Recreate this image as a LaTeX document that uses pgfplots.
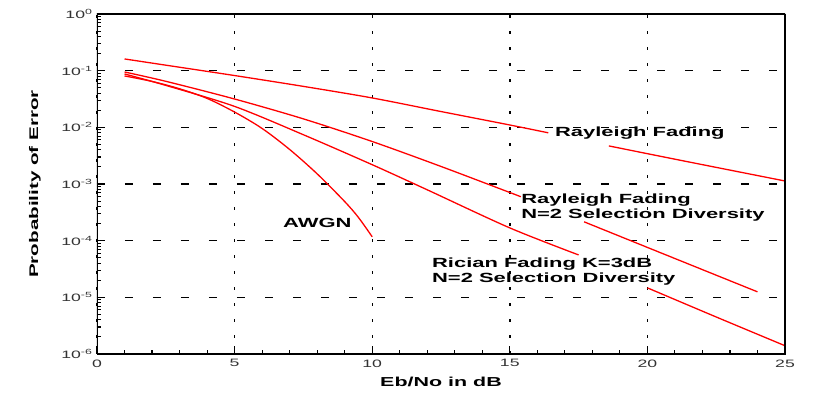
\documentclass[border=0pt]{standalone}
\usepackage{fontspec}
\setmainfont{Liberation Sans}[FakeStretch=1.65]
\usepackage{pgfplots}
\pgfplotsset{compat=1.18}
\begin{document}
\begin{tikzpicture}
\begin{axis}[
  scale only axis, width=688pt, height=340pt,
  at={(0,0)}, anchor=south west,
  ymode=log, log basis y=10,
  xmin=0, xmax=25, ymin=1e-6, ymax=1,
  xtick={0,5,10,15,20,25}, minor x tick num=4,
  /pgf/number format/assume math mode=true,
  yticklabel={10\textsuperscript{\pgfmathparse{int(round(\tick))}\pgfmathresult}},
  tick pos=left, tick align=inside,
  every tick/.style={black, line width=1.1pt},
  major tick length=8pt, minor tick length=4pt,
  grid=major,
  x grid style={black, line width=1.4pt, dash pattern=on 3pt off 13pt},
  y grid style={black, line width=1.3pt, dash pattern=on 8pt off 20pt},
  ticklabel style={font=\fontsize{10.7}{12}\selectfont, text=black!80},
  xticklabel style={yshift=-2pt},
  yticklabel style={xshift=-1pt},
  xlabel={Eb/No in dB}, ylabel={Probability of Error},
  every axis x label/.style={at={(axis description cs:0.5,0)}, anchor=center, yshift=-28pt, font=\bfseries\fontsize{13}{15}\selectfont},
  every axis y label/.style={at={(axis description cs:0,0.5)}, xshift=-62pt, rotate=90, anchor=center, font=\bfseries\fontsize{12.5}{15}\selectfont},
]
\tikzset{crv/.style={red, line width=1.3pt, smooth, mark=none}}
% Rayleigh fading
\addplot[crv] coordinates {(1,0.161) (2.5,0.125) (5,0.082) (7.5,0.0528) (10,0.0330) (12.5,0.0190) (15,0.0110) (16.4,0.0080)};
\addplot[crv] coordinates {(18.6,0.0047) (21,0.00274) (25,0.00113)};
% Rayleigh N=2 selection diversity
\addplot[crv] coordinates {(1,0.0948) (2.5,0.0649) (5,0.0316) (7.5,0.0141) (10,0.00562) (12.5,0.00204) (15,7.08e-4) (15.4,5.96e-4)};
\addplot[crv] coordinates {(17.7,2.15e-4) (20,7.6e-5) (24,1.25e-5)};
% Rician K=3dB N=2
\addplot[crv] coordinates {(1,0.0875) (2.5,0.055) (5,0.0234) (7.5,0.0074) (10,0.00219) (12,7.9e-4) (15,1.68e-4) (17.5,5.6e-5)};
\addplot[crv] coordinates {(20,1.47e-5) (22.5,4.5e-6) (25,1.4e-6)};
% AWGN
\addplot[crv] coordinates {(1,0.0807) (2,0.0646) (3,0.0479) (4,0.0324) (5,0.0186) (6,0.00955) (7,0.00407) (8,0.00151) (9,4.90e-4) (9.5,2.57e-4) (10,1.17e-4)};
\tikzset{lbl/.style={font=\bfseries\fontsize{13.3}{15}\selectfont, anchor=west, inner sep=0pt, align=left, text=black}}
\node[lbl] at (axis cs:16.64,7.96e-3) {Rayleigh Fading};
\node[lbl] at (axis cs:15.41,3.87e-4) {Rayleigh Fading\\N=2 Selection Diversity};
\node[lbl] at (axis cs:12.17,2.82e-5) {Rician Fading K=3dB\\N=2 Selection Diversity};
\node[lbl] at (axis cs:6.76,2.06e-4) {AWGN};
\draw[black, line width=1.6pt] (rel axis cs:0,0) rectangle (rel axis cs:1,1);
\end{axis}
\path[use as bounding box] (-97pt,-44pt) rectangle (734pt,354pt);
\end{tikzpicture}
\end{document}
